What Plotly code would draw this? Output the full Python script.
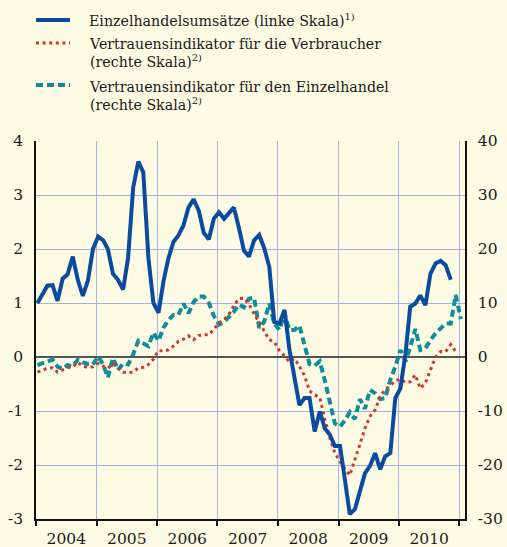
import plotly.graph_objects as go

# Monthly observations, January 2004 onwards
retail_sales = [  # Einzelhandelsumsätze, left scale
    1.0, 1.15, 1.32, 1.33, 1.04, 1.45, 1.53, 1.86, 1.42, 1.13,
    1.42, 2.0, 2.23, 2.16, 2.0, 1.54, 1.43, 1.25, 1.83, 3.14,
    3.62, 3.42, 1.83, 1.0, 0.82, 1.42, 1.82, 2.13, 2.25, 2.44,
    2.77, 2.92, 2.71, 2.3, 2.18, 2.56, 2.68, 2.56, 2.65, 2.77,
    2.40, 1.97, 1.86, 2.16, 2.26, 2.02, 1.67, 0.65, 0.62, 0.87,
    0.15, -0.42, -0.89, -0.76, -0.76, -1.38, -1.01, -1.32, -1.44, -1.65,
    -1.65, -2.30, -2.91, -2.82, -2.51, -2.15, -2.02, -1.78, -2.08, -1.84,
    -1.78, -0.76, -0.58, 0.07, 0.93, 0.99, 1.14, 0.96, 1.54, 1.73,
    1.78, 1.70, 1.43,
]
consumer_conf = [  # Vertrauensindikator Verbraucher, right scale
    -2.8, -2.5, -2.1, -2.0, -2.8, -2.4, -2.0, -1.8, -1.0, -1.7,
    -1.9, -1.8, -1.2, -1.7, -2.1, -1.2, -2.1, -2.8, -2.9, -2.8,
    -2.0, -1.9, -1.4, -0.4, 1.2, 1.1, 1.3, 2.0, 2.9, 3.3,
    3.9, 3.2, 4.0, 4.1, 4.1, 5.1, 6.3, 7.0, 7.8, 9.5,
    10.8, 10.9, 9.8, 8.0, 6.4, 4.8, 3.2, 2.8, 1.2, 0.2,
    -0.9, -0.3, -1.7, -3.5, -6.3, -7.0, -7.5, -11.5, -15.0, -17.8,
    -19.4, -20.8, -21.9, -19.2, -16.2, -13.2, -11.0, -9.8, -7.3, -6.0,
    -5.3, -4.4, -4.1, -4.7, -4.6, -3.3, -5.8, -4.8, -2.5, 0.0,
    1.0, 1.0, 2.3, 1.0,
]
retail_conf = [  # Vertrauensindikator Einzelhandel, right scale
    -1.5, -1.1, -0.9, -0.5, -1.8, -2.2, -1.5, -1.7, -0.5, -1.0,
    -1.3, -1.4, 0.1, -1.4, -3.8, -0.2, -2.4, -1.2, -1.4, 0.5,
    3.0, 2.5, 2.0, 4.5, 3.0, 5.5, 6.8, 7.8, 7.8, 9.9,
    8.1, 10.2, 11.2, 11.2, 10.0, 7.6, 6.0, 6.5, 7.4, 8.4,
    9.7, 9.2, 10.8, 11.0, 5.4, 6.5, 9.9, 6.2, 5.0, 8.1,
    5.0, 5.0, 5.8, 2.0, -1.3, -1.6, -0.8, -4.3, -8.0, -12.3,
    -12.9, -11.7, -10.2, -11.5, -7.8, -9.6, -6.1, -6.7, -7.8, -7.6,
    -4.2, -1.8, 1.3, -0.8, 1.8, 5.2, 1.3, 1.6, 3.1, 4.4,
    5.3, 6.2, 6.2, 11.5, 7.0,
]

def month_dates(n):
    return [f"{2004 + i // 12}-{i % 12 + 1:02d}-10" for i in range(n)]

left_ticks = [-3, -2, -1, 0, 1, 2, 3, 4]
left_tick_text = ["-3", "-2", "-1", "0", "1", "2", "3", "4"]
right_ticks = [-30, -20, -10, 0, 10, 20, 30, 40]
right_tick_text = ["-30", "-20", "-10", "0", "10", "20", "30", "40"]

legend_labels = [
    "Einzelhandelsumsätze (linke Skala)<sup>1)</sup>",
    "Vertrauensindikator für die Verbraucher<br>(rechte Skala)<sup>2)</sup>",
    "Vertrauensindikator für den Einzelhandel<br>(rechte Skala)<sup>2)</sup>",
]

BLUE = "#0a4b9f"
RED = "#d2352b"
TEAL = "#0f8d9c"
BG = "#fdfbe3"
GRID = "#a6b3e2"
FONT = "DejaVu Serif"
TXT = "#1a1a1a"

fig = go.Figure()
fig.add_trace(go.Scatter(
    x=month_dates(len(retail_conf)), y=retail_conf, mode="lines",
    line=dict(color=TEAL, width=4, dash="7px,4px"), yaxis="y",
))
fig.add_trace(go.Scatter(
    x=month_dates(len(consumer_conf)), y=consumer_conf, mode="lines",
    line=dict(color=RED, width=3, dash="3px,3.6px"), yaxis="y",
))
fig.add_trace(go.Scatter(
    x=month_dates(len(retail_sales)), y=retail_sales, mode="lines",
    line=dict(color=BLUE, width=4), yaxis="y2",
))

# Legend drawn as sample strokes plus text above the plot area
pw, ph = 429.0, 378.0
def px_x(v):
    return (v - 36) / pw
def px_y(v):
    return (519 - v) / ph

samples = [(20, BLUE, "solid", 4), (43, RED, "3px,3.6px", 3), (85, TEAL, "7px,4px", 4)]
for yy, col, dash, w in samples:
    fig.add_shape(type="line", xref="paper", yref="paper",
                  x0=px_x(36), x1=px_x(70), y0=px_y(yy), y1=px_y(yy),
                  line=dict(color=col, width=w, dash=dash))

for txt, yy in zip(legend_labels, [20, 53, 96]):
    fig.add_annotation(text=txt, xref="paper", yref="paper",
                       x=px_x(87), y=px_y(yy), xanchor="left", yanchor="middle",
                       align="left", showarrow=False,
                       font=dict(family=FONT, size=14.2, color=TXT))

tick_font = dict(family=FONT, size=15.5, color=TXT)

fig.update_layout(
    width=507, height=547,
    margin=dict(l=36, r=42, t=141, b=28),
    paper_bgcolor=BG, plot_bgcolor=BG,
    showlegend=False,
    font=dict(family=FONT, size=15, color=TXT),
    xaxis=dict(
        type="date", range=["2004-01-01", "2011-02-04"], automargin=False,
        tick0="2004-01-01", dtick="M12", tickformat="%Y",
        ticklabelmode="period", ticks="outside", ticklen=5,
        tickcolor="#111", tickwidth=1.5,
        showline=True, linecolor="#111", linewidth=1.5,
        showgrid=True, gridcolor=GRID, gridwidth=1,
        tickfont=tick_font,
    ),
    yaxis=dict(
        side="right", range=[-30, 40], automargin=False,
        tickvals=right_ticks, ticktext=right_tick_text,
        showline=True, linecolor="#111", linewidth=1.5,
        showgrid=True, gridcolor=GRID, gridwidth=1,
        zeroline=True, zerolinecolor="#555", zerolinewidth=2,
        ticks="", ticklabelstandoff=8,
        tickfont=tick_font,
    ),
    yaxis2=dict(
        overlaying="y", side="left", range=[-3, 4], automargin=False,
        tickvals=left_ticks, ticktext=left_tick_text,
        showline=True, linecolor="#111", linewidth=1.5,
        showgrid=False, zeroline=False, ticks="", ticklabelstandoff=8,
        tickfont=tick_font,
    ),
)

fig.write_html("out.html")
